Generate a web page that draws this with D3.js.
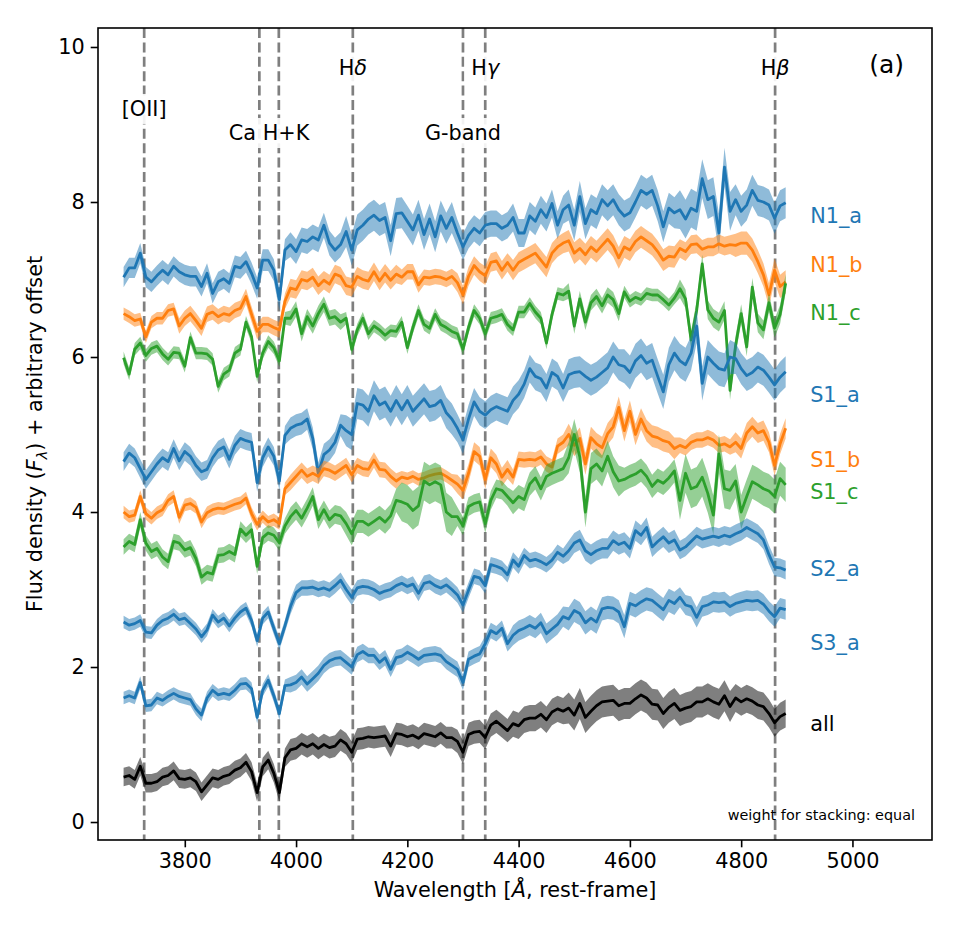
<!DOCTYPE html>
<html>
<head>
<meta charset="utf-8">
<script src="https://cdn.jsdelivr.net/npm/d3@7"></script>
<style>
body { margin:0; background:#fff; }
text { font-family: "DejaVu Sans", sans-serif; }
</style>
</head>
<body>
<div id="chart"></div>
<script>
// rest-frame wavelength grid of the stacked spectra (Angstrom)
var wavelength = d3.range(3690, 4881, 10);

// stacked flux + offset, one value per grid point
var n1a = [7.03,7.15,7.15,7.34,7.03,6.97,7.05,7.12,7.06,7.17,
  7.1,7.06,7.04,7.04,6.91,7.08,6.82,6.97,7.01,6.95,
  7.17,7.15,7.23,7.08,6.89,7.25,7.25,7.12,6.74,7.38,
  7.45,7.36,7.51,7.49,7.55,7.51,7.7,7.47,7.38,7.45,
  7.62,7.38,7.64,7.7,7.78,7.83,7.76,7.8,7.5,7.85,
  7.86,7.75,7.64,7.83,7.58,7.78,7.55,7.82,7.66,7.8,
  7.6,7.42,7.57,7.66,7.6,7.7,7.72,7.72,7.66,7.7,
  7.8,7.6,7.6,7.82,7.75,7.9,7.8,7.98,7.7,7.9,
  7.96,7.7,8.07,7.72,7.9,7.85,8.03,7.95,8.03,7.9,
  7.82,7.86,8.0,8.15,8.1,8.15,7.95,7.68,7.92,7.86,
  7.9,7.78,7.92,7.88,8.3,8.03,8.07,7.6,8.45,7.88,
  8.03,7.88,7.96,8.15,8.02,8.0,7.96,7.79,7.95,7.99];
var n1b = [6.56,6.52,6.47,6.49,6.26,6.45,6.5,6.5,6.6,6.62,
  6.4,6.5,6.56,6.47,6.37,6.55,6.58,6.52,6.56,6.54,
  6.6,6.63,6.78,6.55,6.33,6.42,6.42,6.38,6.35,6.72,
  6.89,6.87,7.0,6.98,7.03,6.92,6.99,6.94,7.07,7.04,
  6.92,6.9,7.04,7.0,6.98,7.1,6.98,7.08,6.99,7.07,
  7.03,7.1,7.1,6.93,7.03,7.02,7.04,7.03,7.0,7.04,
  6.96,6.8,7.04,7.18,7.1,7.05,7.22,7.24,7.12,7.22,
  7.12,7.22,7.26,7.3,7.34,7.25,7.16,7.34,7.42,7.47,
  7.5,7.34,7.4,7.32,7.42,7.36,7.44,7.52,7.43,7.28,
  7.42,7.38,7.49,7.55,7.5,7.45,7.36,7.25,7.3,7.29,
  7.4,7.36,7.45,7.46,7.39,7.42,7.42,7.46,7.43,7.45,
  7.44,7.47,7.47,7.38,7.23,7.06,6.8,7.12,6.91,6.97];
var n1c = [5.99,5.78,6.1,6.18,6.02,6.11,6.14,6.04,5.97,6.06,
  6.05,5.88,6.25,6.05,6.05,6.04,5.97,5.62,5.78,5.83,
  6.05,6.1,6.45,6.26,5.75,6.05,6.2,6.12,5.95,6.5,
  6.5,6.62,6.3,6.52,6.4,6.56,6.68,6.5,6.52,6.45,
  6.5,6.1,6.35,6.5,6.3,6.4,6.35,6.28,6.34,6.33,
  6.45,6.12,6.38,6.6,6.42,6.37,6.55,6.42,6.38,6.33,
  6.3,6.1,6.38,6.6,6.5,6.3,6.5,6.52,6.55,6.42,
  6.35,6.58,6.58,6.69,6.58,6.5,6.18,6.55,6.82,6.8,
  6.85,6.4,6.75,6.45,6.7,6.78,6.66,6.8,6.74,6.56,
  6.84,6.72,6.77,6.74,6.82,6.8,6.8,6.74,6.67,6.76,
  6.88,6.75,6.22,6.6,7.2,6.61,6.5,6.45,6.6,5.57,
  6.15,6.56,6.13,6.9,6.44,6.35,6.7,6.37,6.55,6.95];
var s1a = [4.65,4.76,4.7,4.56,4.42,4.52,4.62,4.7,4.65,4.82,
  4.66,4.78,4.72,4.6,4.52,4.55,4.7,4.8,4.84,4.68,
  4.86,4.95,4.92,4.9,4.38,4.7,4.84,4.72,4.4,4.99,
  5.08,5.12,5.14,5.2,4.95,4.5,4.74,4.8,4.9,5.12,
  5.05,5.0,5.4,5.38,5.3,5.5,5.38,5.42,5.3,5.44,
  5.32,5.44,5.3,5.38,5.46,5.36,5.38,5.44,5.28,5.2,
  5.08,4.93,5.2,5.42,5.3,5.25,5.32,5.36,5.33,5.3,
  5.44,5.52,5.65,5.85,5.75,5.72,5.6,5.8,5.75,5.6,
  5.77,5.8,5.81,5.75,5.7,5.74,5.8,5.86,6.0,5.9,
  5.88,5.8,5.95,6.02,5.92,5.96,5.75,5.55,5.9,6.05,
  5.95,5.9,6.05,6.4,5.66,6.0,5.92,5.85,5.83,6.0,
  5.98,5.85,5.76,5.8,5.87,5.83,5.74,5.64,5.74,5.81];
var s1b = [4.0,3.94,3.96,4.2,3.98,3.92,3.99,4.03,4.15,4.2,
  3.93,4.09,4.11,4.06,3.87,3.99,4.03,4.05,4.04,4.07,
  4.1,4.12,4.18,3.98,3.84,3.94,3.87,3.9,3.85,4.3,
  4.38,4.46,4.54,4.46,4.5,4.46,4.56,4.54,4.5,4.55,
  4.6,4.48,4.6,4.56,4.55,4.67,4.55,4.54,4.46,4.4,
  4.45,4.43,4.46,4.42,4.44,4.47,4.49,4.5,4.46,4.41,
  4.36,4.28,4.5,4.78,4.72,4.42,4.7,4.62,4.45,4.55,
  4.45,4.68,4.67,4.68,4.67,4.71,4.62,4.58,4.85,4.9,
  5.0,4.86,4.95,4.62,4.96,4.88,4.83,5.01,5.1,5.35,
  5.05,5.3,5.0,5.2,5.05,4.98,4.96,4.92,4.9,4.82,
  4.86,4.83,4.9,4.93,4.93,4.96,4.93,4.86,4.88,4.84,
  4.9,4.82,5.02,5.1,5.02,5.05,4.9,4.6,4.88,5.08];
var s1c = [3.55,3.62,3.58,3.9,3.6,3.49,3.53,3.42,3.36,3.62,
  3.6,3.51,3.54,3.4,3.16,3.22,3.2,3.44,3.45,3.49,
  3.45,3.78,3.7,3.77,3.3,3.67,3.73,3.7,3.6,3.82,
  3.94,4.02,3.92,4.05,4.2,3.9,4.03,3.9,3.97,3.95,
  3.85,3.72,3.88,3.88,3.83,3.88,3.93,3.87,3.95,4.15,
  4.13,4.1,4.02,4.08,4.4,4.35,4.39,4.35,4.0,3.94,
  3.94,3.82,4.07,4.11,4.13,3.85,4.15,4.3,4.28,4.2,
  4.12,4.2,4.16,4.36,4.44,4.3,4.46,4.5,4.53,4.56,
  4.7,5.0,4.71,4.0,4.56,4.62,4.53,4.72,4.52,4.4,
  4.42,4.46,4.49,4.54,4.46,4.33,4.41,4.37,4.44,4.53,
  4.15,4.5,4.3,4.33,4.45,4.24,3.96,4.75,4.3,4.28,
  4.4,4.0,4.2,4.39,4.35,4.3,4.27,4.2,4.43,4.35];
var s2a = [2.58,2.54,2.56,2.6,2.45,2.44,2.54,2.6,2.63,2.68,
  2.61,2.63,2.56,2.49,2.39,2.48,2.67,2.58,2.63,2.53,
  2.63,2.71,2.76,2.6,2.34,2.63,2.71,2.5,2.3,2.53,
  2.78,2.96,3.02,3.02,3.03,3.0,3.02,2.99,3.05,3.12,
  3.0,2.9,3.02,3.04,3.03,3.0,2.95,2.98,3.0,3.05,
  3.08,3.04,3.07,2.95,3.08,3.1,3.05,3.02,3.06,3.0,
  2.93,2.8,2.99,3.17,3.15,3.05,3.32,3.3,3.27,3.19,
  3.38,3.3,3.44,3.37,3.39,3.36,3.32,3.38,3.48,3.43,
  3.5,3.6,3.64,3.5,3.45,3.5,3.53,3.53,3.63,3.58,
  3.61,3.53,3.76,3.7,3.8,3.55,3.62,3.68,3.6,3.64,
  3.51,3.55,3.62,3.69,3.65,3.67,3.69,3.67,3.7,3.68,
  3.72,3.75,3.8,3.76,3.72,3.64,3.45,3.29,3.28,3.25];
var s3a = [1.6,1.63,1.6,1.8,1.5,1.51,1.6,1.57,1.62,1.66,
  1.62,1.6,1.58,1.46,1.38,1.6,1.7,1.64,1.66,1.64,
  1.7,1.78,1.79,1.72,1.35,1.7,1.83,1.63,1.4,1.76,
  1.77,1.8,1.87,1.78,1.85,1.92,2.02,2.08,2.11,2.12,
  2.06,2.0,2.16,2.2,2.15,2.15,2.06,2.12,1.97,2.12,
  2.14,2.19,2.15,2.1,2.15,2.16,2.17,2.15,2.07,2.02,
  1.97,1.8,2.1,2.14,2.17,2.3,2.47,2.43,2.5,2.3,
  2.41,2.47,2.5,2.54,2.5,2.57,2.43,2.49,2.55,2.65,
  2.62,2.73,2.69,2.57,2.63,2.58,2.75,2.77,2.76,2.71,
  2.52,2.82,2.79,2.84,2.88,2.86,2.8,2.74,2.86,2.82,
  2.9,2.8,2.78,2.64,2.78,2.8,2.84,2.83,2.84,2.78,
  2.82,2.84,2.86,2.85,2.86,2.81,2.72,2.65,2.76,2.74];
var allStack = [0.58,0.6,0.55,0.72,0.5,0.5,0.52,0.58,0.6,0.66,
  0.56,0.55,0.57,0.52,0.39,0.48,0.57,0.55,0.59,0.61,
  0.67,0.7,0.77,0.65,0.38,0.71,0.8,0.63,0.38,0.83,
  0.93,0.95,1.01,0.97,1.01,0.95,1.0,0.96,0.98,1.06,
  1.01,0.9,1.07,1.08,1.1,1.09,1.1,1.11,0.98,1.14,
  1.13,1.1,1.12,1.08,1.14,1.12,1.1,1.15,1.09,1.09,
  1.04,0.9,1.13,1.16,1.17,1.09,1.25,1.3,1.24,1.18,
  1.27,1.24,1.32,1.34,1.34,1.39,1.32,1.42,1.46,1.43,
  1.47,1.38,1.53,1.35,1.43,1.5,1.55,1.56,1.57,1.5,
  1.53,1.53,1.59,1.64,1.6,1.52,1.51,1.4,1.48,1.53,
  1.44,1.47,1.49,1.55,1.55,1.59,1.55,1.52,1.63,1.49,
  1.6,1.55,1.59,1.56,1.51,1.49,1.4,1.28,1.36,1.4];

// half width of the error band, one value per 100 A block starting at 3690
var n1aErr = [0.13,0.13,0.14,0.16,0.2,0.2,0.17,0.18,0.2,0.2,0.25,0.2];
var n1bErr = [0.08,0.1,0.1,0.12,0.12,0.1,0.12,0.13,0.14,0.14,0.12,0.15];
var n1cErr = [0.08,0.08,0.08,0.1,0.08,0.08,0.08,0.08,0.1,0.08,0.12,0.12];
var s1aErr = [0.12,0.12,0.12,0.14,0.2,0.2,0.18,0.18,0.2,0.22,0.22,0.2];
var s1bErr = [0.08,0.08,0.08,0.1,0.1,0.08,0.12,0.1,0.14,0.14,0.1,0.13];
var s1cErr = [0.1,0.1,0.1,0.12,0.15,0.25,0.12,0.15,0.2,0.15,0.25,0.22];
var s2aErr = [0.08,0.08,0.08,0.1,0.1,0.1,0.1,0.1,0.13,0.13,0.12,0.12];
var s3aErr = [0.08,0.08,0.08,0.1,0.1,0.1,0.1,0.13,0.15,0.15,0.13,0.13];
var allErr = [0.12,0.12,0.12,0.14,0.14,0.14,0.15,0.17,0.2,0.2,0.2,0.18];

var seriesNames = ['N1_a','N1_b','N1_c','S1_a','S1_b','S1_c','S2_a','S3_a','all'];

// spectral features
var featureNames = ['[OII]','CaK','CaH','Hδ','G-band','Hγ','Hβ'];
var featureWl = [3727, 3934, 3969, 4102, 4300, 4340, 4861];

var xTicks = [3800, 4000, 4200, 4400, 4600, 4800, 5000];
var yTicks = [0, 2, 4, 6, 8, 10];

var blue = '#1f77b4', orange = '#ff7f0e', green = '#2ca02c';
var series = [
    {values:n1a, err:n1aErr, color:blue,   labelY:7.73},
    {values:n1b, err:n1bErr, color:orange, labelY:7.1},
    {values:n1c, err:n1cErr, color:green,  labelY:6.48},
    {values:s1a, err:s1aErr, color:blue,   labelY:5.42},
    {values:s1b, err:s1bErr, color:orange, labelY:4.58},
    {values:s1c, err:s1cErr, color:green,  labelY:4.17},
    {values:s2a, err:s2aErr, color:blue,   labelY:3.17},
    {values:s3a, err:s3aErr, color:blue,   labelY:2.22},
    {values:allStack, err:allErr, color:'#000000', labelY:1.17}
];
series.forEach(function(s, i){ s.name = seriesNames[i]; });

var margin = {t:28, l:98, b:96, r:28},
    width = 960 - margin.l - margin.r,
    height = 936 - margin.t - margin.b;

var svg = d3.select('#chart')
    .append('svg')
    .attr('width', width + margin.l + margin.r)
    .attr('height', height + margin.t + margin.b);

var x = d3.scaleLinear().domain([3644, 5143]).range([0, width]);
var y = d3.scaleLinear().domain([-0.232, 10.245]).range([height, 0]);

var g = svg.append('g')
    .attr('transform', 'translate(' + margin.l + ',' + margin.t + ')');

g.append('clipPath').attr('id', 'clip')
    .append('rect').attr('width', width).attr('height', height);

var plot = g.append('g').attr('clip-path', 'url(#clip)');

// dashed feature lines
plot.selectAll('.feat')
    .data(featureWl)
    .enter()
    .append('line')
    .attr('class', 'feat')
    .attr('x1', function(d){ return x(d); })
    .attr('x2', function(d){ return x(d); })
    .attr('y1', 0)
    .attr('y2', height)
    .attr('stroke', '#7f7f7f')
    .attr('stroke-width', 2.7)
    .attr('stroke-dasharray', '10,4.4');

var area = d3.area()
    .x(function(d){ return x(d.wl); })
    .y0(function(d){ return y(d.v - d.e); })
    .y1(function(d){ return y(d.v + d.e); });

var d3line = d3.line()
    .x(function(d){ return x(d.wl); })
    .y(function(d){ return y(d.v); });

series.forEach(function(s){
    var pts = wavelength.map(function(wl, i){
        return {wl: wl, v: s.values[i], e: s.err[Math.floor((wl - 3690) / 100)]};
    });
    plot.append('path')
        .attr('d', area(pts))
        .attr('fill', s.color)
        .attr('fill-opacity', 0.5)
        .attr('stroke', 'none');
    plot.append('path')
        .attr('d', d3line(pts))
        .attr('fill', 'none')
        .attr('stroke', s.color)
        .attr('stroke-width', 2.8)
        .attr('stroke-linejoin', 'round');
});

// series labels
g.selectAll('.slabel')
    .data(series)
    .enter()
    .append('text')
    .attr('class', 'slabel')
    .attr('x', x(4924))
    .attr('y', function(d){ return y(d.labelY); })
    .attr('fill', function(d){ return d.color; })
    .style('font-size', '20.8px')
    .text(function(d){ return d.name; });

// feature annotations with white boxes
var notes = [
    {t:'[OII]', wl:3727, v:9.11},
    {t:'Ca H+K', wl:3951.5, v:8.8},
    {t:'H', g:'δ', wl:4102, v:9.64},
    {t:'G-band', wl:4300, v:8.8},
    {t:'H', g:'γ', wl:4340, v:9.64},
    {t:'H', g:'β', wl:4861, v:9.64}
];
notes.forEach(function(n){
    var grp = g.append('g');
    var txt = grp.append('text')
        .attr('x', x(n.wl))
        .attr('y', y(n.v))
        .attr('text-anchor', 'middle')
        .style('font-size', '20.8px')
        .text(n.t);
    if (n.g) txt.append('tspan').style('font-style', 'italic').text(n.g);
    var bb = txt.node().getBBox();
    grp.insert('rect', 'text')
        .attr('x', bb.x - 7).attr('y', bb.y - 3)
        .attr('width', bb.width + 14).attr('height', bb.height + 6)
        .attr('fill', '#fff').attr('fill-opacity', 0.9);
});

g.append('text')
    .attr('x', 806).attr('y', 45)
    .attr('text-anchor', 'end')
    .style('font-size', '25px')
    .text('(a)');

g.append('text')
    .attr('x', 817).attr('y', 792)
    .attr('text-anchor', 'end')
    .style('font-size', '14.4px')
    .text('weight for stacking: equal');

// axes
var xAxis = g.append('g')
    .attr('transform', 'translate(0,' + height + ')')
    .call(d3.axisBottom(x).tickValues(xTicks).tickSize(7.3).tickPadding(6).tickFormat(d3.format('d')));
var yAxis = g.append('g')
    .call(d3.axisLeft(y).tickValues(yTicks).tickSize(7.3).tickPadding(6).tickFormat(d3.format('d')));
[xAxis, yAxis].forEach(function(a){
    a.select('.domain').remove();
    a.selectAll('.tick line').attr('stroke', '#000').attr('stroke-width', 1.6);
    a.selectAll('.tick text')
        .attr('fill', '#000')
        .style('font-family', '"DejaVu Sans", sans-serif')
        .style('font-size', '20.8px');
});

g.append('rect')
    .attr('width', width)
    .attr('height', height)
    .attr('fill', 'none')
    .attr('stroke', '#000')
    .attr('stroke-width', 1.6);

// axis titles
var xt = g.append('text')
    .attr('x', width / 2)
    .attr('y', height + 57)
    .attr('text-anchor', 'middle')
    .style('font-size', '20.8px')
    .text('Wavelength [');
xt.append('tspan').style('font-style', 'italic').text('Å');
xt.append('tspan').text(', rest-frame]');

var yt = g.append('text')
    .attr('transform', 'translate(' + (35 - margin.l) + ',' + (height / 2) + ') rotate(-90)')
    .attr('dy', '0.35em')
    .attr('text-anchor', 'middle')
    .style('font-size', '20.8px')
    .text('Flux density (');
yt.append('tspan').style('font-style', 'italic').text('F');
yt.append('tspan').style('font-style', 'italic').style('font-size', '14.5px').attr('dy', 5).text('λ');
yt.append('tspan').attr('dy', -5).text(') + arbitrary offset');
</script>
</body>
</html>
